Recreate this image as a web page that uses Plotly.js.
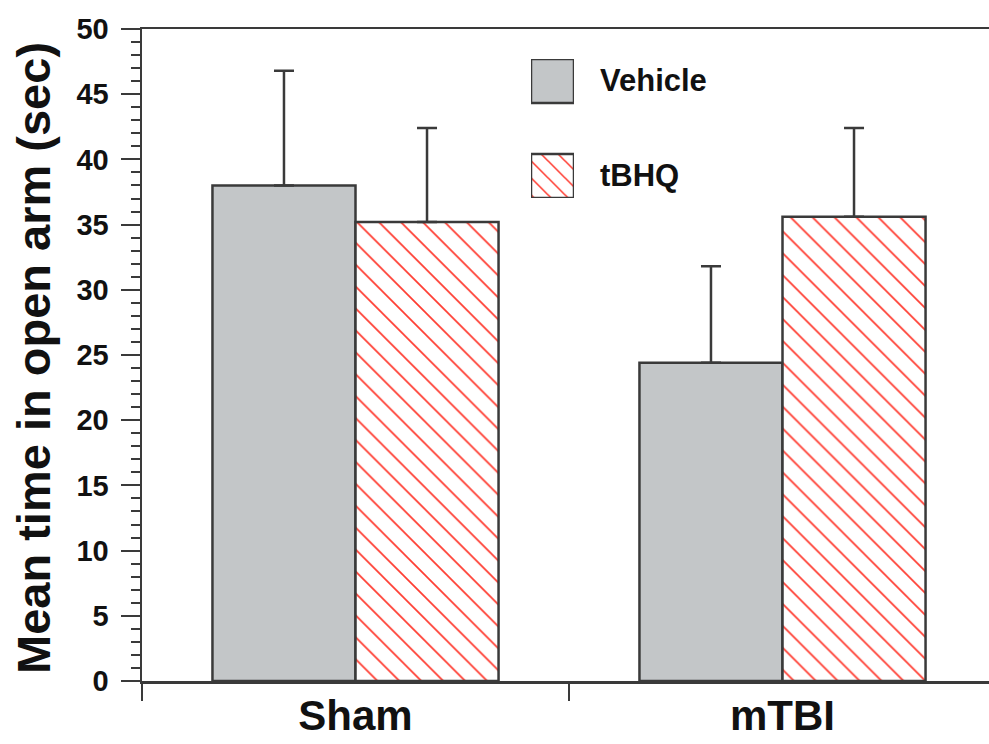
<!DOCTYPE html>
<html>
<head>
<meta charset="utf-8">
<script src="https://cdn.plot.ly/plotly-3.0.1.min.js"></script>
<style>html,body{margin:0;padding:0;background:#fff;}#chart{width:989px;height:744px;}</style>
</head>
<body>
<div id="chart"></div>
<script>
// ---- data ----
var groups = ['Sham', 'mTBI'];
var seriesNames = ['Vehicle', 'tBHQ'];
var vehicleMean = [38.0, 24.4];
var vehicleErrTop = [46.8, 31.8];
var tbhqMean = [35.2, 35.6];
var tbhqErrTop = [42.4, 42.4];
var yTicks = [0, 5, 10, 15, 20, 25, 30, 35, 40, 45, 50];

// ---- styles ----
var FONT = 'Liberation Sans, Arial, sans-serif';
var INK = '#3a3a3a';
var GREY = '#c3c6c8';
var RED = '#ff3b30';

function upper(top, mean) { return top.map(function (t, i) { return t - mean[i]; }); }
function zeros(a) { return a.map(function () { return 0; }); }

var traces = [
  {
    type: 'bar', name: seriesNames[0], x: groups, y: vehicleMean,
    marker: { color: GREY, line: { color: INK, width: 2.5 } },
    error_y: { type: 'data', symmetric: false, array: upper(vehicleErrTop, vehicleMean), arrayminus: zeros(vehicleMean),
               color: INK, thickness: 2.5, width: 10 },
    showlegend: false, hoverinfo: 'skip'
  },
  {
    type: 'bar', name: seriesNames[1], x: groups, y: tbhqMean,
    marker: { color: 'white', line: { color: INK, width: 2.5 },
              pattern: { shape: '\\', fgcolor: RED, bgcolor: 'white', size: 15.5, solidity: 0.11 } },
    error_y: { type: 'data', symmetric: false, array: upper(tbhqErrTop, tbhqMean), arrayminus: zeros(tbhqMean),
               color: INK, thickness: 2.5, width: 10 },
    showlegend: false, hoverinfo: 'skip'
  },
  // legend swatches
  {
    type: 'bar', orientation: 'h', xaxis: 'x2', yaxis: 'y2',
    y: [seriesNames[0]], x: [1], width: 0.463,
    marker: { color: GREY, line: { color: INK, width: 2.5 } },
    showlegend: false, hoverinfo: 'skip'
  },
  {
    type: 'bar', orientation: 'h', xaxis: 'x2', yaxis: 'y2',
    y: [seriesNames[1]], x: [1], width: 0.463,
    marker: { color: 'white', line: { color: INK, width: 2.5 },
              pattern: { shape: '\\', fgcolor: RED, bgcolor: 'white', size: 12, solidity: 0.13 } },
    showlegend: false, hoverinfo: 'skip'
  }
];

var annotations = seriesNames.map(function (s) {
  return { xref: 'x2', yref: 'y2', x: 1, y: s, xshift: 24, xanchor: 'left', yanchor: 'middle',
           text: s, showarrow: false, font: { family: FONT, size: 31, color: '#111', weight: 'bold' } };
});
annotations.push({
  xref: 'paper', yref: 'paper', x: (33 - 142) / 847, y: (681 - 358) / 652,
  xanchor: 'center', yanchor: 'middle', textangle: -90, showarrow: false,
  text: 'Mean time in open arm (sec)', font: { family: FONT, size: 47, color: '#111', weight: 'bold' }
});

var layout = {
  width: 989, height: 744,
  margin: { l: 142, r: 0, t: 29, b: 63 },
  paper_bgcolor: 'white', plot_bgcolor: 'white',
  barmode: 'group', bargap: 0.33, bargroupgap: 0,
  xaxis: {
    type: 'category', range: [-0.5, 1.4836], tickson: 'boundaries',
    showline: true, mirror: true, linecolor: INK, linewidth: 2.5,
    ticks: 'outside', ticklen: 17, tickwidth: 2, tickcolor: INK,
    showgrid: false, zeroline: false, ticklabelstandoff: -4,
    tickfont: { family: FONT, size: 42, color: '#111', weight: 'bold' }
  },
  yaxis: {
    range: [0, 50], tickvals: yTicks, ticktext: yTicks.map(String),
    showline: true, linecolor: INK, linewidth: 2.5,
    ticks: 'outside', ticklen: 19, tickwidth: 2, tickcolor: INK,
    minor: { dtick: 1, ticks: 'outside', ticklen: 9, tickwidth: 2, tickcolor: INK, showgrid: false },
    showgrid: false, zeroline: false, ticklabelstandoff: 6,
    tickfont: { family: FONT, size: 29, color: '#111', weight: 'bold' }
  },
  xaxis2: { domain: [(531 - 142) / 847, (574 - 142) / 847], anchor: 'y2', range: [0, 1], visible: false, fixedrange: true },
  yaxis2: { domain: [(681 - 198) / 652, (681 - 59) / 652], anchor: 'x2', type: 'category',
            categoryorder: 'array', categoryarray: [seriesNames[1], seriesNames[0]],
            range: [-0.2316, 1.2316], visible: false, fixedrange: true },
  annotations: annotations,
  showlegend: false
};

Plotly.newPlot('chart', traces, layout, { displayModeBar: false, staticPlot: true });
</script>
</body>
</html>
